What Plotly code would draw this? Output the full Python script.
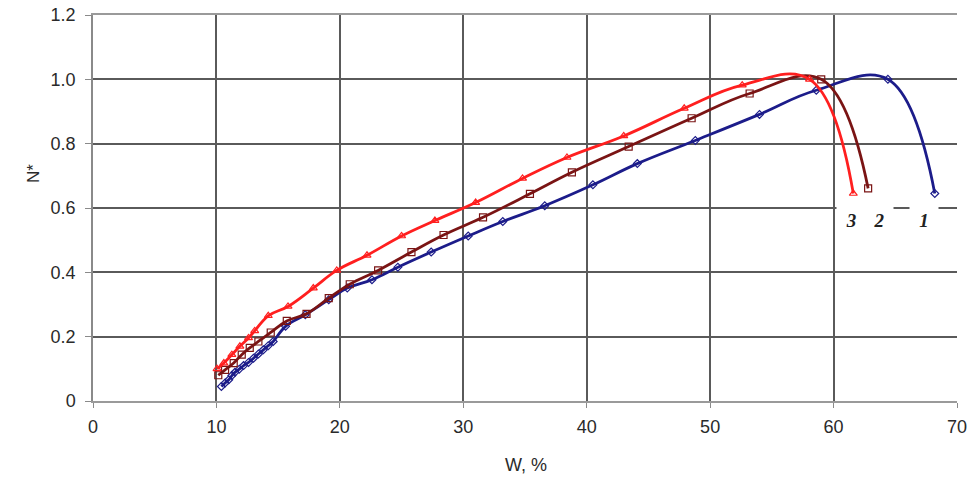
import plotly.graph_objects as go

# Curve 1 (blue, diamonds)
w1 = [10.4, 10.7, 11.0, 11.25, 11.5, 11.85, 12.2, 12.6, 13.0, 13.4, 13.8, 14.2, 14.6,
      15.6, 17.2, 19.1, 20.6, 22.6, 24.7, 27.4, 30.4, 33.2, 36.6, 40.5, 44.1, 48.8,
      54.0, 58.6, 64.4, 68.2]
n1 = [0.045, 0.056, 0.066, 0.079, 0.089, 0.099, 0.11, 0.12, 0.133, 0.146, 0.159, 0.172, 0.185,
      0.232, 0.268, 0.315, 0.351, 0.377, 0.416, 0.463, 0.513, 0.558, 0.607, 0.672, 0.738, 0.81,
      0.891, 0.966, 1.0, 0.645]

# Curve 2 (brown, squares)
w2 = [10.15, 10.7, 11.4, 12.05, 12.7, 13.4, 14.4, 15.7, 17.3, 19.1, 20.8, 23.1, 25.8, 28.4,
      31.6, 35.4, 38.8, 43.4, 48.5, 53.2, 59.0, 62.8]
n2 = [0.08, 0.097, 0.118, 0.144, 0.165, 0.185, 0.213, 0.249, 0.271, 0.32, 0.363, 0.406, 0.463,
      0.516, 0.571, 0.644, 0.711, 0.791, 0.879, 0.956, 1.0, 0.661]

# Curve 3 (red, triangles)
w3 = [10.05, 10.6, 11.25, 11.9, 12.6, 13.1, 14.2, 15.8, 17.85, 19.75, 22.2, 25.0, 27.7, 31.0,
      34.8, 38.4, 43.0, 47.9, 52.6, 58.05, 61.6]
n3 = [0.1, 0.118, 0.144, 0.17, 0.196, 0.218, 0.265, 0.294, 0.351, 0.406, 0.453, 0.513, 0.561,
      0.617, 0.692, 0.757, 0.824, 0.91, 0.982, 1.0, 0.645]

curve_labels = ["3", "2", "1"]
label_x = [61.4, 63.7, 67.3]
label_y = [0.562, 0.562, 0.562]

x_ticks = [0, 10, 20, 30, 40, 50, 60, 70]
y_ticks = [0, 0.2, 0.4, 0.6, 0.8, 1.0, 1.2]
y_ticktext = ["0", "0.2", "0.4", "0.6", "0.8", "1.0", "1.2"]

fig = go.Figure()

series = [
    (w1, n1, "#1c1c8a", "diamond-open", 6),
    (w2, n2, "#7a1414", "square-open", 7),
    (w3, n3, "#ff1f1f", "triangle-up-open", 7),
]
for xs, ys, col, sym, sz in series:
    fig.add_trace(go.Scatter(
        x=xs, y=ys, mode="lines+markers",
        line=dict(color=col, width=2.8, shape="spline", smoothing=1.15),
        marker=dict(symbol=sym, size=sz, color=col, line=dict(color=col, width=1.2)),
        showlegend=False,
    ))

for t, lx, ly in zip(curve_labels, label_x, label_y):
    fig.add_annotation(
        x=lx, y=ly, xref="x", yref="y", text="<b><i>" + t + "</i></b>",
        showarrow=False, bgcolor="white", width=26, height=28,
        font=dict(family="Liberation Serif", size=19, color="#222222"),
    )

fig.add_annotation(
    x=-0.083, y=0.59, xref="paper", yref="paper", text="N*", textangle=-90,
    showarrow=False, font=dict(family="Liberation Sans", size=17, color="#2a2a2a"),
)
fig.add_annotation(
    x=0.501, y=-0.197, xref="paper", yref="paper", text="W, %",
    showarrow=False, font=dict(family="Liberation Sans", size=18, color="#2a2a2a"),
)

fig.update_layout(
    width=971, height=492,
    margin=dict(l=93, r=14, t=15, b=91, autoexpand=False),
    paper_bgcolor="white", plot_bgcolor="white",
    font=dict(family="Liberation Sans", size=18, color="#2a2a2a"),
    xaxis=dict(
        range=[0, 70], tickvals=x_ticks, showgrid=True, gridcolor="#5a5a5a", gridwidth=1.6,
        showline=True, linecolor="#9a9a9a", linewidth=1.5, ticks="outside", ticklen=5,
        tickcolor="#8a8a8a", zeroline=False, ticklabelstandoff=4, automargin=False,
        mirror=True,
    ),
    yaxis=dict(
        range=[0, 1.2], tickvals=y_ticks, ticktext=y_ticktext, showgrid=True,
        gridcolor="#5a5a5a", gridwidth=1.6, showline=True, linecolor="#8a8a8a", linewidth=1.5,
        ticks="outside", ticklen=6, tickcolor="#8a8a8a", zeroline=False, ticklabelstandoff=6,
        automargin=False,
    ),
)

fig.write_html(
    "out.html",
    config={"displayModeBar": False},
    post_script="document.body.style.margin='0';document.body.style.overflow='hidden';",
)
